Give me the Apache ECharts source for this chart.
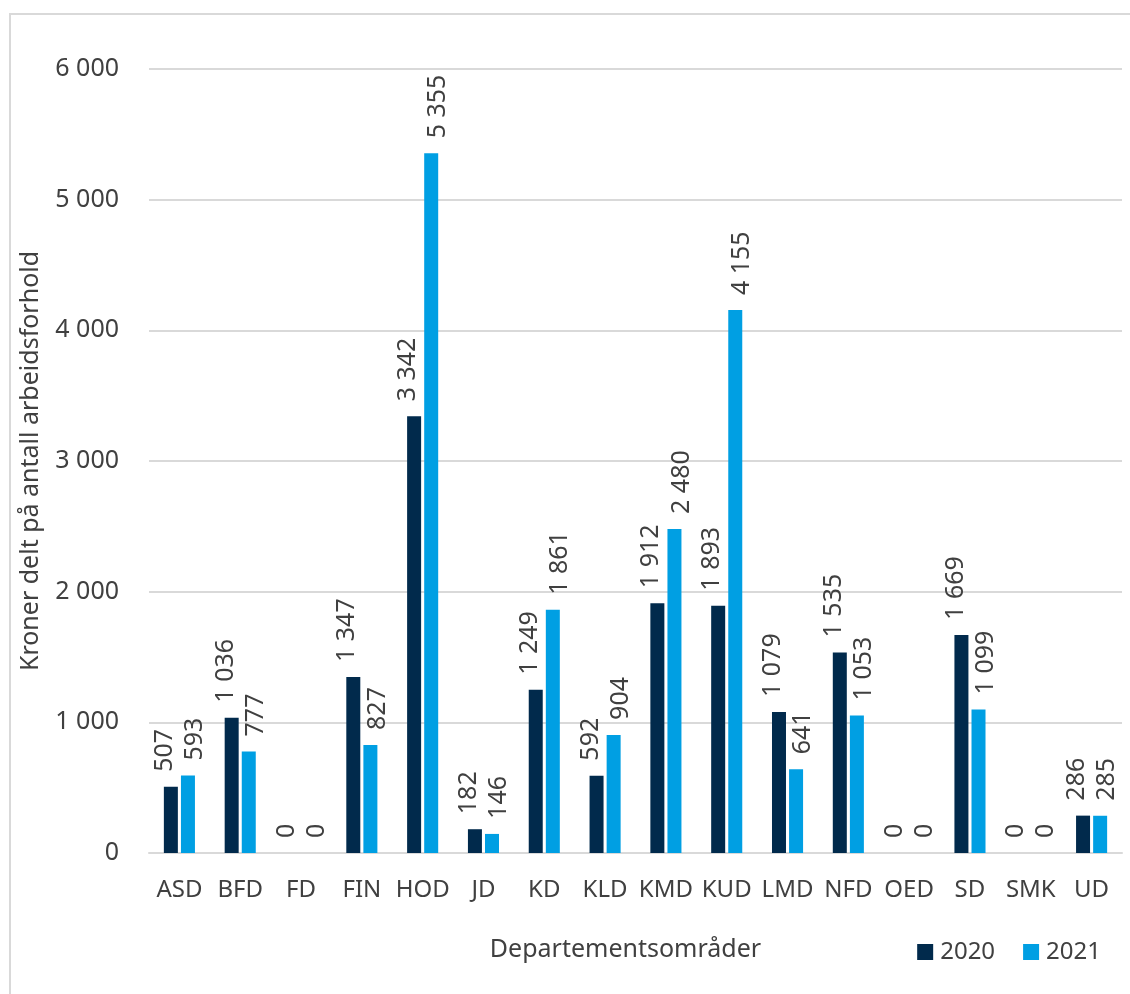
<!DOCTYPE html>
<html>
<head>
<meta charset="utf-8">
<script src="https://cdn.jsdelivr.net/npm/echarts@6/dist/echarts.min.js"></script>
<style>
  html, body { margin: 0; padding: 0; background: #fff; }
  #chart { width: 1130px; height: 994px; }
</style>
</head>
<body>
<div id="chart"></div>
<script>
const categories = ['ASD', 'BFD', 'FD', 'FIN', 'HOD', 'JD', 'KD', 'KLD', 'KMD', 'KUD', 'LMD', 'NFD', 'OED', 'SD', 'SMK', 'UD']
const values2020 = [507, 1036, 0, 1347, 3342, 182, 1249, 592, 1912, 1893, 1079, 1535, 0, 1669, 0, 286]
const values2021 = [593, 777, 0, 827, 5355, 146, 1861, 904, 2480, 4155, 641, 1053, 0, 1099, 0, 285]
const seriesNames = ['2020', '2021']
const yTicks = [0, 1000, 2000, 3000, 4000, 5000, 6000]

const font = 'Noto Sans'
const textColor = '#404040'
const fmt = v => String(v).replace(/\B(?=(\d{3})+(?!\d))/g, ' ')

const chart = echarts.init(document.getElementById('chart'))

// rotated value label above each bar; offset is in the rotated frame,
// so the second component moves it sideways on screen
function barLabel(dx) {
  return {
    show: true,
    position: 'top',
    rotate: 90,
    align: 'left',
    verticalAlign: 'middle',
    distance: 15,
    offset: [0, dx],
    fontFamily: font,
    fontSize: 25,
    color: textColor,
    formatter: p => fmt(p.value)
  }
}

chart.setOption({
  animation: false,
  textStyle: { fontFamily: font },
  graphic: [{
    type: 'rect',
    shape: { x: 10, y: 14, width: 1140, height: 1000 },
    style: { fill: 'none', stroke: '#d9d9d9', lineWidth: 2 },
    silent: true
  }],
  grid: { left: 149, right: 8, top: 69, bottom: 141, containLabel: false },
  legend: {
    data: seriesNames,
    right: 24,
    top: 935,
    icon: 'rect',
    itemWidth: 16,
    itemHeight: 16,
    itemGap: 28,
    textStyle: { fontFamily: font, fontSize: 24, color: textColor, padding: [0, 0, 0, 2] }
  },
  xAxis: {
    type: 'category',
    data: categories,
    name: 'Departementsområder',
    nameLocation: 'middle',
    nameGap: 84,
    nameTextStyle: { fontFamily: font, fontSize: 25, color: textColor, padding: [0, 20, 0, 0] },
    axisLine: { lineStyle: { color: '#d9d9d9', width: 2 } },
    axisTick: { show: false },
    axisLabel: { fontFamily: font, fontSize: 24, color: textColor, margin: 25, interval: 0 }
  },
  yAxis: {
    type: 'value',
    min: yTicks[0],
    max: yTicks[yTicks.length - 1],
    interval: 1000,
    name: 'Kroner delt på antall arbeidsforhold',
    nameLocation: 'middle',
    nameGap: 106,
    nameTextStyle: { fontFamily: font, fontSize: 25, color: textColor },
    axisLine: { show: false },
    axisTick: { show: false },
    splitLine: { lineStyle: { color: '#d9d9d9', width: 2 } },
    axisLabel: { fontFamily: font, fontSize: 25, color: textColor, margin: 30, formatter: v => fmt(v) }
  },
  series: [
    {
      name: seriesNames[0],
      type: 'bar',
      data: values2020,
      barWidth: 14,
      barGap: '22%',
      itemStyle: { color: '#012a4c' },
      label: barLabel(-6)
    },
    {
      name: seriesNames[1],
      type: 'bar',
      data: values2021,
      barWidth: 14,
      barGap: '22%',
      itemStyle: { color: '#009fe3' },
      label: barLabel(7)
    }
  ]
})
</script>
</body>
</html>
